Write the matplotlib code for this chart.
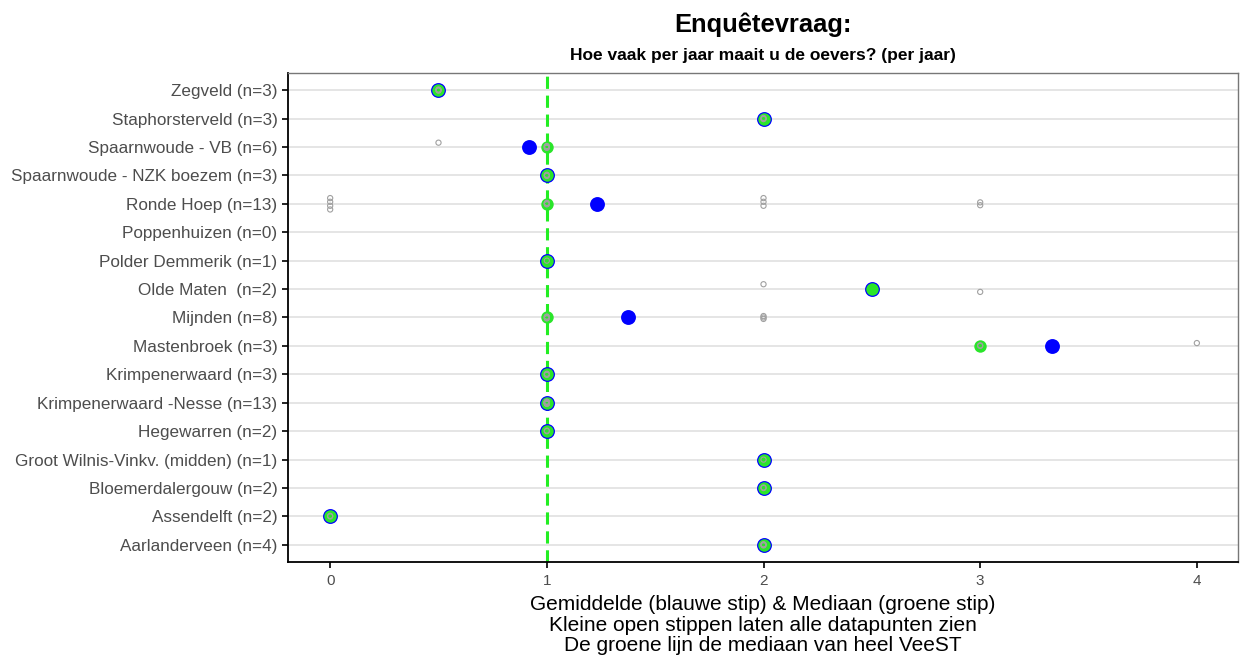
import matplotlib
matplotlib.use('Agg')
import matplotlib.pyplot as plt
import numpy as np

plt.rcParams['font.family'] = ['Liberation Sans', 'DejaVu Sans']

# Sites, top to bottom as shown
sites = ['Zegveld (n=3)', 'Staphorsterveld (n=3)', 'Spaarnwoude - VB (n=6)',
         'Spaarnwoude - NZK boezem (n=3)', 'Ronde Hoep (n=13)', 'Poppenhuizen (n=0)',
         'Polder Demmerik (n=1)', 'Olde Maten  (n=2)', 'Mijnden (n=8)',
         'Mastenbroek (n=3)', 'Krimpenerwaard (n=3)', 'Krimpenerwaard -Nesse (n=13)',
         'Hegewarren (n=2)', 'Groot Wilnis-Vinkv. (midden) (n=1)', 'Bloemerdalergouw (n=2)',
         'Assendelft (n=2)', 'Aarlanderveen (n=4)']

# Answers (times per year) per site
answers = [
    [0.5, 0.5, 0.5],
    [2, 2, 2],
    [0.5, 1, 1, 1, 1, 1],
    [1, 1, 1],
    [0, 0, 0, 0, 1, 1, 1, 1, 2, 2, 2, 3, 3],
    [],
    [1],
    [2, 3],
    [1, 1, 1, 1, 1, 2, 2, 2],
    [3, 3, 4],
    [1, 1, 1],
    [1] * 13,
    [1, 1],
    [2],
    [2, 2],
    [0, 0],
    [2, 2, 2, 2],
]

# small vertical jitter (in row units)
jitter = [
    [0.0, 0.02, -0.02],
    [0.0, 0.02, -0.02],
    [0.15, 0.0, 0.02, -0.02, 0.03, -0.03],
    [0.0, 0.02, -0.02],
    [0.2, 0.07, -0.07, -0.2, 0.0, 0.02, -0.02, 0.03, 0.2, 0.07, -0.07, 0.05, -0.05],
    [],
    [0.0],
    [0.17, -0.1],
    [0.0, 0.02, -0.02, 0.03, -0.03, 0.05, -0.05, 0.0],
    [0.0, 0.02, 0.1],
    [0.0, 0.02, -0.02],
    [0.0, 0.02, -0.02, 0.03, -0.03, 0.01, -0.01, 0.04, -0.04, 0.0, 0.02, -0.02, 0.01],
    [0.0, 0.02],
    [0.0],
    [0.0, 0.02],
    [0.0, 0.02],
    [0.0, 0.02, -0.02, 0.01],
]

overall_median = 1

fig = plt.figure(figsize=(12.41, 6.58), dpi=100)
ax = fig.add_axes([0.232, 0.146, 0.7656, 0.743])

n = len(sites)
ypos = np.arange(n)[::-1]

for y in ypos:
    ax.axhline(y, color='#e3e3e3', lw=1.3, zorder=0)

ax.axvline(overall_median, color='#22ee22', lw=2.2, dashes=(4, 2.2), zorder=1)

for y, vals, jit in zip(ypos, answers, jitter):
    if len(vals) == 0:
        continue
    vals = np.array(vals, dtype=float)
    ax.scatter(vals.mean(), y, s=115, color='#0000ff', lw=0, zorder=3)
    ax.scatter(np.median(vals), y, s=80, color='#2ae52a', lw=0, zorder=4)
    ax.scatter(vals, y + np.array(jit), s=14, facecolors='none',
               edgecolors='#a0a0a0', lw=0.8, zorder=5)

ax.set_xlim(-0.195, 4.19)
ax.set_ylim(-0.6, n - 0.4)
ax.set_xticks([0, 1, 2, 3, 4])
ax.set_xticklabels(['0', '1', '2', '3', '4'])
ax.set_yticks(ypos)
ax.set_yticklabels(sites)
ax.tick_params(axis='both', colors='black', labelcolor='#4d4d4d', length=4, width=1.2)
ax.tick_params(axis='y', labelsize=12.3)
ax.tick_params(axis='x', labelsize=11, pad=5)

for side in ['left', 'bottom']:
    ax.spines[side].set_color('black')
    ax.spines[side].set_linewidth(1.3)
for side in ['top', 'right']:
    ax.spines[side].set_color('#777777')
    ax.spines[side].set_linewidth(1.0)

ax.set_xlabel('Gemiddelde (blauwe stip) & Mediaan (groene stip)\n'
              'Kleine open stippen laten alle datapunten zien\n'
              'De groene lijn de mediaan van heel VeeST',
              fontsize=15, color='black', linespacing=1.1, labelpad=5)

fig.text(0.615, 0.963, 'Enquêtevraag:', ha='center', va='center',
         fontsize=18.4, fontweight='bold')
fig.text(0.615, 0.915, 'Hoe vaak per jaar maait u de oevers? (per jaar)', ha='center',
         va='center', fontsize=12.5, fontweight='bold')

fig.savefig('out.png', dpi=100)
